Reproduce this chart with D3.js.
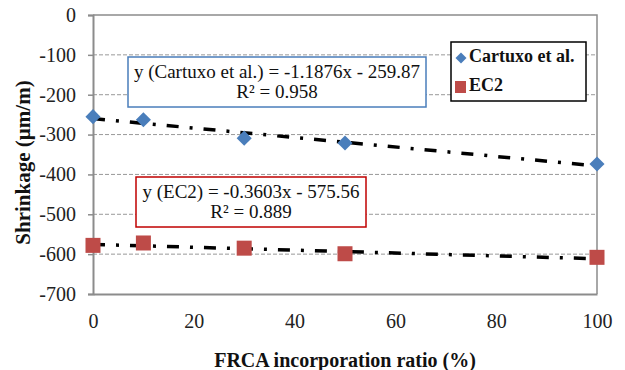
<!DOCTYPE html>
<html>
<head>
<meta charset="utf-8">
<script src="https://cdn.jsdelivr.net/npm/d3@7"></script>
</head>
<body style="margin:0;background:#fff">
<svg id="chart" width="625" height="370"></svg>
<script>
// FRCA incorporation ratio (%) for each mix
const ratios = [0, 10, 30, 50, 100];
// Shrinkage (µm/m)
const cartuxo = [-255, -263, -309, -321, -374];
const ec2 = [-578, -572, -585, -599, -608];
const seriesNames = ["Cartuxo et al.", "EC2"];
const xTicks = [0, 20, 40, 60, 80, 100];
const yTicks = [0, -100, -200, -300, -400, -500, -600, -700];
// Linear trend fits: [slope, intercept, R²]
const fitCartuxo = [-1.1876, -259.87, 0.958];
const fitEC2 = [-0.3603, -575.56, 0.889];

const FONT = '"Liberation Serif"';
const svg = d3.select("#chart");
const x = d3.scaleLinear().domain([0, 100]).range([93, 597]);
const y = d3.scaleLinear().domain([-700, 0]).range([294, 15]);

const gridColor = "#8c8c8c";
const plain = d => String(d);   // keep ASCII hyphen for negatives

// dashed horizontal gridlines
svg.append("g").selectAll("line")
  .data(yTicks.filter(v => v !== 0 && v !== -700))
  .join("line")
  .attr("x1", x(0)).attr("x2", x(100))
  .attr("y1", d => y(d)).attr("y2", d => y(d))
  .attr("stroke", "#999").attr("stroke-width", 1)
  .attr("stroke-dasharray", "4,2");

// plot area frame (top and right)
svg.append("path")
  .attr("d", `M${x(0)},${y(0)}H${x(100)}V${y(-700)}`)
  .attr("fill", "none").attr("stroke", gridColor).attr("stroke-width", 1.5);

// y axis
const yAxis = svg.append("g")
  .attr("transform", `translate(${x(0)},0)`)
  .call(d3.axisLeft(y).tickValues(yTicks).tickSize(5).tickPadding(12).tickFormat(plain));
yAxis.select(".domain").attr("stroke", gridColor).attr("stroke-width", 2);
yAxis.selectAll(".tick line").attr("stroke", gridColor).attr("stroke-width", 1.5);
yAxis.selectAll("text").attr("font-size", 20).attr("fill", "#222").style("font-family", FONT);

// x axis
const xAxis = svg.append("g")
  .attr("transform", `translate(0,${y(-700)})`)
  .call(d3.axisBottom(x).tickValues(xTicks).tickSize(0).tickPadding(20).tickFormat(plain));
xAxis.select(".domain").attr("stroke", gridColor).attr("stroke-width", 2);
xAxis.selectAll("text").attr("font-size", 20).attr("fill", "#222").style("font-family", FONT);

// axis titles
svg.append("text")
  .attr("x", (x(0) + x(100)) / 2).attr("y", 362)
  .attr("text-anchor", "middle").attr("dominant-baseline", "middle")
  .attr("font-size", 20).attr("font-weight", "bold").attr("fill", "#111")
  .style("font-family", FONT)
  .text("FRCA incorporation ratio (%)");
svg.append("text")
  .attr("transform", `translate(25,${(y(0) + y(-700)) / 2 + 8}) rotate(-90)`)
  .attr("text-anchor", "middle").attr("dominant-baseline", "middle")
  .attr("font-size", 21).attr("font-weight", "bold").attr("fill", "#111")
  .style("font-family", FONT)
  .text("Shrinkage (µm/m)");

// trend lines
const trend = (fit) => [0, 100].map(v => [x(v), y(fit[0] * v + fit[1])]);
[fitCartuxo, fitEC2].forEach(fit => {
  svg.append("path")
    .attr("d", d3.line()(trend(fit)))
    .attr("fill", "none").attr("stroke", "#000").attr("stroke-width", 3.5)
    .attr("stroke-dasharray", "12,11,3,11");
});

// markers
const blue = "#4a7ebb", red = "#be4b48";
const diamond = d3.symbol().type(d3.symbolDiamond2).size(145);
svg.append("g").selectAll("path")
  .data(ratios.map((r, i) => [r, cartuxo[i]]))
  .join("path")
  .attr("d", diamond)
  .attr("transform", d => `translate(${x(d[0])},${y(d[1])})`)
  .attr("fill", blue);
svg.append("g").selectAll("rect")
  .data(ratios.map((r, i) => [r, ec2[i]]))
  .join("rect")
  .attr("x", d => x(d[0]) - 7.5).attr("y", d => y(d[1]) - 7.5)
  .attr("width", 15).attr("height", 15)
  .attr("fill", red);

// equation boxes
function eqBox(x0, y0, w, h, stroke, lines) {
  const g = svg.append("g");
  g.append("rect").attr("x", x0).attr("y", y0).attr("width", w).attr("height", h)
    .attr("fill", "#fff").attr("stroke", stroke).attr("stroke-width", 1.5);
  lines.forEach((t, i) => {
    g.append("text")
      .attr("x", x0 + w / 2).attr("y", y0 + 17 + i * 20)
      .attr("text-anchor", "middle").attr("dominant-baseline", "middle")
      .attr("font-size", 19).attr("fill", "#111")
      .style("font-family", FONT).text(t);
  });
}
const fmtEq = (name, fit) => `y (${name}) = ${fit[0]}x - ${Math.abs(fit[1])}`;
eqBox(128, 57, 298, 50, "#4a7ebb", [fmtEq("Cartuxo et al.", fitCartuxo), `R² = ${fitCartuxo[2]}`]);
eqBox(136, 177, 230, 50, "#c00000", [fmtEq("EC2", fitEC2), `R² = ${fitEC2[2]}`]);

// legend
const lg = svg.append("g");
lg.append("rect").attr("x", 451).attr("y", 42).attr("width", 135).attr("height", 59)
  .attr("fill", "#fff").attr("stroke", "#000").attr("stroke-width", 1.5);
lg.append("path").attr("d", d3.symbol().type(d3.symbolDiamond2).size(78))
  .attr("transform", "translate(461,58)").attr("fill", blue);
lg.append("rect").attr("x", 455).attr("y", 81).attr("width", 11).attr("height", 12).attr("fill", red);
seriesNames.forEach((n, i) => {
  lg.append("text").attr("x", 469).attr("y", 58 + i * 29)
    .attr("dominant-baseline", "middle")
    .attr("font-size", 18).attr("font-weight", "bold").attr("fill", "#111")
    .style("font-family", FONT).text(n);
});
</script>
</body>
</html>
